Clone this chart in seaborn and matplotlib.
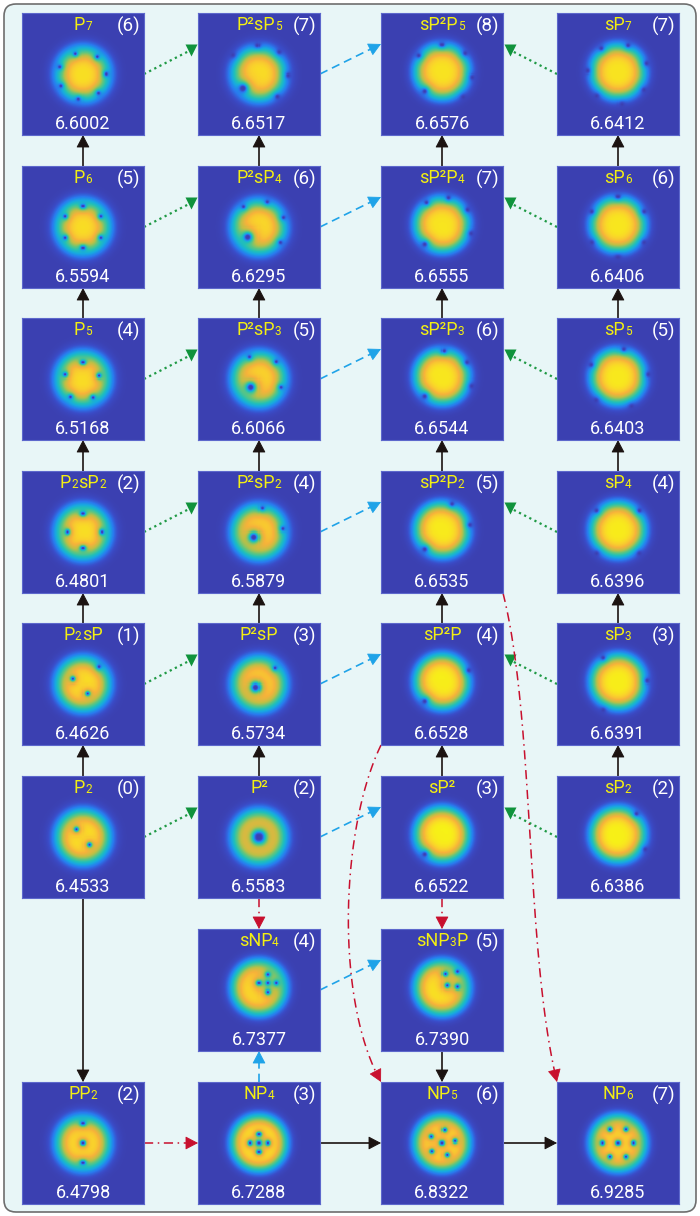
import numpy as np
import seaborn as sns
import matplotlib
matplotlib.use("Agg")
import matplotlib.pyplot as plt
from matplotlib.colors import LinearSegmentedColormap
from matplotlib.patches import FancyBboxPatch

sns.set_theme(style="white")
plt.rcParams['font.family'] = ['Roboto', 'DejaVu Sans']

# ---- data ----
labels = ['P₇', 'P²sP₅', 'sP²P₅', 'sP₇',
          'P₆', 'P²sP₄', 'sP²P₄', 'sP₆',
          'P₅', 'P²sP₃', 'sP²P₃', 'sP₅',
          'P₂sP₂', 'P²sP₂', 'sP²P₂', 'sP₄',
          'P₂sP', 'P²sP', 'sP²P', 'sP₃',
          'P₂', 'P²', 'sP²', 'sP₂',
          'sNP₄', 'sNP₃P',
          'PP₂', 'NP₄', 'NP₅', 'NP₆']
grid_row = [0, 0, 0, 0, 1, 1, 1, 1, 2, 2, 2, 2, 3, 3, 3, 3,
            4, 4, 4, 4, 5, 5, 5, 5, 6, 6, 7, 7, 7, 7]
grid_col = [0, 1, 2, 3, 0, 1, 2, 3, 0, 1, 2, 3, 0, 1, 2, 3,
            0, 1, 2, 3, 0, 1, 2, 3, 1, 2, 0, 1, 2, 3]
counts = [6, 7, 8, 7, 5, 6, 7, 6, 4, 5, 6, 5, 2, 4, 5, 4,
          1, 3, 4, 3, 0, 2, 3, 2, 4, 5, 2, 3, 6, 7]
energies = [6.6002, 6.6517, 6.6576, 6.6412, 6.5594, 6.6295, 6.6555, 6.6406,
            6.5168, 6.6066, 6.6544, 6.6403, 6.4801, 6.5879, 6.6535, 6.6396,
            6.4626, 6.5734, 6.6528, 6.6391, 6.4533, 6.5583, 6.6522, 6.6386,
            6.7377, 6.7390, 6.4798, 6.7288, 6.8322, 6.9285]
# condensate family: P = plain blob, s = shifted bright blob, N = necklace
family = ['P', 'P', 's', 's', 'P', 'P', 's', 's', 'P', 'P', 's', 's',
          'P', 'P', 's', 's', 'P', 'P', 's', 's', 'P', 'P', 's', 's',
          's', 's', 'P', 'N', 'N', 'N']

# vortex cores (x, y, core size, charge) in panel units (half width = 1)
S_DENT = [(-0.28, -0.28, 0.05, 1)]
cores = {
    'P₇': [(-0.12, 0.33, .035, 1), (0.23, 0.28, .035, 1), (0.38, 0.0, .035, 1),
           (0.25, -0.31, .035, 1), (-0.07, -0.41, .035, 1), (-0.36, -0.19, .035, 1),
           (-0.38, 0.11, .035, 1)],
    'P₆': [(0.0, 0.34, .035, 1), (0.29, 0.17, .035, 1), (0.29, -0.17, .035, 1),
           (0.0, -0.34, .035, 1), (-0.29, -0.17, .035, 1), (-0.29, 0.17, .035, 1)],
    'P₅': [(0.0, 0.27, .035, 1), (0.26, 0.05, .035, 1), (0.16, -0.30, .035, 1),
           (-0.20, -0.29, .035, 1), (-0.29, 0.07, .035, 1)],
    'P₂sP₂': [(0.0, 0.30, .035, 1), (-0.25, 0.0, .035, 1), (0.31, 0.0, .035, 1),
              (0.0, -0.26, .035, 1)],
    'P₂sP': [(-0.16, 0.08, .035, 1), (0.07, -0.15, .035, 1), (0.26, 0.28, .035, 1)],
    'P₂': [(-0.10, 0.12, .035, 1), (0.10, -0.12, .035, 1)],
    'P²': [(0.0, 0.0, 0.07, 2)],
    'P²sP': [(-0.05, -0.05, 0.05, 2), (0.26, 0.26, .035, 1)],
    'P²sP₂': [(-0.08, -0.08, 0.05, 2), (0.05, 0.39, .035, 1), (0.39, 0.05, .035, 1)],
    'P²sP₃': [(-0.13, -0.13, 0.05, 2), (-0.15, 0.36, .035, 1), (0.28, 0.28, .035, 1),
              (0.36, -0.13, .035, 1)],
    'P²sP₄': [(-0.18, -0.16, 0.05, 2), (-0.25, 0.33, .035, 1), (0.13, 0.41, .035, 1),
              (0.40, 0.15, .035, 1), (0.35, -0.25, .035, 1)],
    'P²sP₅': [(-0.26, -0.23, 0.05, 2), (-0.43, 0.31, .04, 1), (-0.02, 0.47, .04, 1),
              (0.33, 0.36, .04, 1), (0.48, -0.02, .04, 1), (0.30, -0.37, .04, 1)],
    'sP²': S_DENT,
    'sP²P': S_DENT + [(0.44, 0.22, .04, 1)],
    'sP²P₂': S_DENT + [(0.16, 0.46, .04, 1), (0.46, 0.11, .04, 1)],
    'sP²P₃': S_DENT + [(0.03, 0.46, .04, 1), (0.41, 0.27, .04, 1), (0.49, -0.11, .04, 1)],
    'sP²P₄': S_DENT + [(-0.25, 0.40, .04, 1), (0.10, 0.48, .04, 1), (0.42, 0.28, .04, 1),
                       (0.48, -0.10, .04, 1)],
    'sP²P₅': S_DENT + [(-0.38, 0.30, .04, 1), (0.0, 0.48, .04, 1), (0.38, 0.34, .04, 1),
                       (0.50, -0.05, .04, 1), (0.35, -0.38, .04, 1)],
    'sP₂': [(0.30, 0.38, .04, 1), (0.45, -0.20, .04, 1)],
    'sP₃': [(0.48, 0.05, .04, 1), (-0.24, 0.43, .04, 1), (-0.24, -0.43, .04, 1)],
    'sP₄': [(0.35, 0.35, .04, 1), (-0.35, 0.35, .04, 1), (-0.35, -0.35, .04, 1),
            (0.35, -0.35, .04, 1)],
    'sP₅': [(0.09, 0.49, .04, 1), (0.50, 0.07, .04, 1), (0.22, -0.45, .04, 1),
            (-0.36, -0.35, .04, 1), (-0.44, 0.23, .04, 1)],
    'sP₆': [(0.43, 0.25, .04, 1), (0.0, 0.50, .04, 1), (-0.43, 0.25, .04, 1),
            (-0.43, -0.25, .04, 1), (0.0, -0.50, .04, 1), (0.43, -0.25, .04, 1)],
    'sP₇': [(0.47, 0.17, .04, 1), (0.16, 0.47, .04, 1), (-0.27, 0.42, .04, 1),
            (-0.50, 0.05, .04, 1), (-0.35, -0.36, .04, 1), (0.06, -0.50, .04, 1),
            (0.43, -0.26, .04, 1)],
    'sNP₄': [(0.14, 0.11, .035, 1), (0.0, 0.11, .035, 1), (0.28, 0.11, .035, 1),
             (0.14, 0.25, .035, 1), (0.14, -0.03, .035, 1)],
    'sNP₃P': [(0.05, 0.26, .035, 1), (0.25, 0.30, .035, 1), (0.08, 0.07, .035, 1),
              (0.25, 0.05, .035, 1)],
    'PP₂': [(0.0, 0.0, .035, 1), (0.0, 0.32, .035, 1), (0.0, -0.32, .035, 1)],
    'NP₄': [(0.0, 0.0, .035, 1), (0.14, 0.0, .035, 1), (-0.14, 0.0, .035, 1),
            (0.0, 0.14, .035, 1), (0.0, -0.14, .035, 1)],
    'NP₅': [(0.0, 0.0, .035, 1), (-0.17, 0.10, .035, 1), (0.04, 0.21, .035, 1),
            (0.21, 0.03, .035, 1), (0.08, -0.19, .035, 1), (-0.16, -0.13, .035, 1)],
    'NP₆': [(0.0, 0.0, .035, 1), (0.25, 0.0, .035, 1), (0.125, 0.22, .035, 1),
            (-0.125, 0.22, .035, 1), (-0.25, 0.0, .035, 1), (-0.125, -0.22, .035, 1),
            (0.125, -0.22, .035, 1)],
}

# connections: (source label, target label, kind)
links = []
for col_block in [['P₂', 'P₂sP', 'P₂sP₂', 'P₅', 'P₆', 'P₇'],
                  ['P²', 'P²sP', 'P²sP₂', 'P²sP₃', 'P²sP₄', 'P²sP₅'],
                  ['sP²', 'sP²P', 'sP²P₂', 'sP²P₃', 'sP²P₄', 'sP²P₅'],
                  ['sP₂', 'sP₃', 'sP₄', 'sP₅', 'sP₆', 'sP₇']]:
    for a, b in zip(col_block[:-1], col_block[1:]):
        links.append((a, b, 'black'))
links += [('P₂', 'PP₂', 'black'), ('sNP₃P', 'NP₅', 'black'),
          ('NP₄', 'NP₅', 'black'), ('NP₅', 'NP₆', 'black')]
green_pairs = [('P₇', 'P²sP₅'), ('P₆', 'P²sP₄'), ('P₅', 'P²sP₃'), ('P₂sP₂', 'P²sP₂'),
               ('P₂sP', 'P²sP'), ('P₂', 'P²'),
               ('sP₇', 'sP²P₅'), ('sP₆', 'sP²P₄'), ('sP₅', 'sP²P₃'), ('sP₄', 'sP²P₂'),
               ('sP₃', 'sP²P'), ('sP₂', 'sP²')]
links += [(a, b, 'green') for a, b in green_pairs]
blue_pairs = [('P²sP₅', 'sP²P₅'), ('P²sP₄', 'sP²P₄'), ('P²sP₃', 'sP²P₃'),
              ('P²sP₂', 'sP²P₂'), ('P²sP', 'sP²P'), ('P²', 'sP²'),
              ('sNP₄', 'sNP₃P'), ('NP₄', 'sNP₄')]
links += [(a, b, 'blue') for a, b in blue_pairs]
links += [('P²', 'sNP₄', 'red'), ('sP²', 'sNP₃P', 'red'), ('PP₂', 'NP₄', 'red'),
          ('sP²P', 'NP₅', 'redcurve'), ('sP²P₂', 'NP₆', 'redcurve')]

# ---- layout (pixels) ----
W, H = 700, 1216
col_left = [22, 198, 381, 557]
row_top = [13, 166, 318, 471, 623, 776, 929, 1082]
S = 122
SUBS = {'₂': '2', '₃': '3', '₄': '4', '₅': '5', '₆': '6', '₇': '7'}

styles = {
    'black': ('#1b1311', '-', 1.2),
    'green': ('#1f9a45', (0, (1, 1.6)), 1.6),
    'blue': ('#1fa3e8', (0, (5, 3)), 1.2),
    'red': ('#c8102e', (0, (6, 3, 1, 3)), 1.1),
    'redcurve': ('#c8102e', (0, (6, 3, 1, 3)), 1.1),
}

parula = LinearSegmentedColormap.from_list('parula_like', [
    (0.00, '#3b40b1'), (0.08, '#3a4cc8'), (0.20, '#2979ee'), (0.33, '#17a9e0'),
    (0.45, '#22c0b6'), (0.58, '#60c57e'), (0.70, '#bcbf46'), (0.82, '#f6b23a'),
    (0.92, '#f9d42a'), (1.00, '#f7f514')])

g = np.linspace(-1, 1, 121)
X, Y = np.meshgrid(g, -g)


def density(kind, vort):
    if kind == 's':
        r = np.hypot(X, Y - 0.04)
        n = np.exp(-(r / 0.45) ** 4)
    elif kind == 'N':
        r = np.hypot(X, Y)
        n = 1.12 * np.exp(-(r / 0.45) ** 4)
    else:
        r = np.hypot(X, Y)
        n = np.exp(-(r / 0.44) ** 3.5)
    for (x, y, w, m) in vort:
        d2 = (X - x) ** 2 + (Y - y) ** 2
        n = n * (d2 / (d2 + w ** 2)) ** m
    return np.clip(n, 0, 1)


fig = plt.figure(figsize=(W / 100, H / 100), dpi=100, facecolor='white')
bg = fig.add_axes([0, 0, 1, 1])
bg.set_xlim(0, W)
bg.set_ylim(H, 0)
bg.set_axis_off()
bg.add_patch(FancyBboxPatch((4, 4), W - 8, H - 8,
                            boxstyle='round,pad=0,rounding_size=12',
                            fc='#e8f6f7', ec='#6e6e6e', lw=1.2))

pos = {lab: (grid_row[i], grid_col[i]) for i, lab in enumerate(labels)}


def box(lab):
    r, c = pos[lab]
    return col_left[c], row_top[r]


def draw_head(p_from, p_to, color):
    d = np.subtract(p_to, p_from).astype(float)
    d /= np.hypot(*d)
    tail = np.asarray(p_to, float) - d * 11
    bg.annotate('', xy=p_to, xytext=tail,
                arrowprops=dict(arrowstyle='-|>,head_length=0.8,head_width=0.42',
                                mutation_scale=10, color=color, lw=0.6,
                                shrinkA=0, shrinkB=0))
    return tail


for a, b, kind in links:
    color, ls, lw = styles[kind]
    ax0, ay0 = box(a)
    bx0, by0 = box(b)
    ra, ca = pos[a]
    rb, cb = pos[b]
    if kind == 'redcurve':
        if cb == ca:
            p0 = np.array([ax0, ay0 + S]); p3 = np.array([bx0, by0])
            p1 = p0 + [-41, 85]; p2 = p3 + [-46, -82]
        else:
            p0 = np.array([ax0 + S, ay0 + S]); p3 = np.array([bx0, by0])
            p1 = p0 + [32, 127]; p2 = p3 + [-32, -132]
        t = np.linspace(0, 1, 200)[:, None]
        pts = (1 - t) ** 3 * p0 + 3 * (1 - t) ** 2 * t * p1 + 3 * (1 - t) * t ** 2 * p2 + t ** 3 * p3
        seg = np.hypot(*(pts - p3).T)
        keep = pts[seg > 11]
        tail = draw_head(keep[-1], p3, color)
        bg.plot(list(keep[:, 0]) + [tail[0]], list(keep[:, 1]) + [tail[1]],
                color=color, ls=ls, lw=lw)
        continue
    if ca == cb:
        x = ax0 + S / 2
        if rb < ra:
            start, end = (x, ay0), (x, by0 + S)
        else:
            start, end = (x, ay0 + S), (x, by0)
    elif kind in ('green', 'blue'):
        if cb > ca:
            start, end = (ax0 + S, ay0 + 61), (bx0, by0 + 31)
        else:
            start, end = (ax0, ay0 + 61), (bx0 + S, by0 + 31)
    else:
        start, end = (ax0 + S, ay0 + 61), (bx0, by0 + 61)
    if kind == 'green':
        mx = end[0] - 7 if cb > ca else end[0] + 7
        my = end[1] + 6
        bg.plot([start[0], mx], [start[1], my], color=color, ls=ls, lw=lw)
        bg.plot([mx], [my], marker='v', ms=8.5, color='#10933c', mec='none')
        continue
    tail = draw_head(start, end, color)
    bg.plot([start[0], tail[0]], [start[1], tail[1]], color=color, ls=ls, lw=lw)

renderer = fig.canvas.get_renderer()


def put_label(lab, cx, base_y):
    # subscripts drawn as small digits sitting on the baseline
    runs = []
    for ch in lab:
        sub = ch in SUBS
        txt = SUBS.get(ch, ch)
        if runs and runs[-1][1] == sub:
            runs[-1][0] += txt
        else:
            runs.append([txt, sub])
    arts, x = [], 0.0
    for txt, sub in runs:
        t = fig.text(0, 1 - base_y / H, txt, color='#f3ef12',
                     fontsize=8.5 if sub else 13, va='baseline', ha='left')
        w = t.get_window_extent(renderer).width
        arts.append((t, x))
        x += w + (0.5 if sub else 0)
    x0 = cx - x / 2
    for t, off in arts:
        t.set_x((x0 + off) / W)


for i, lab in enumerate(labels):
    x0, y0 = box(lab)
    ax = fig.add_axes([x0 / W, 1 - (y0 + S) / H, S / W, S / H])
    sns.heatmap(density(family[i], cores.get(lab, [])), ax=ax, cmap=parula,
                vmin=0, vmax=1, cbar=False, xticklabels=False, yticklabels=False)
    for sp in ax.spines.values():
        sp.set_visible(True)
        sp.set_color('#5d68cc')
        sp.set_linewidth(0.8)
    put_label(lab, x0 + S / 2, y0 + 17)
    ax.text(1 - 4 / S, 1 - 19 / S, '(%d)' % counts[i], transform=ax.transAxes,
            ha='right', va='baseline', color='white', fontsize=13.5)
    ax.text(0.5, 1 - 116 / S, '%.4f' % energies[i], transform=ax.transAxes,
            ha='center', va='baseline', color='white', fontsize=13)

fig.savefig('out.png', dpi=100, facecolor='white')
